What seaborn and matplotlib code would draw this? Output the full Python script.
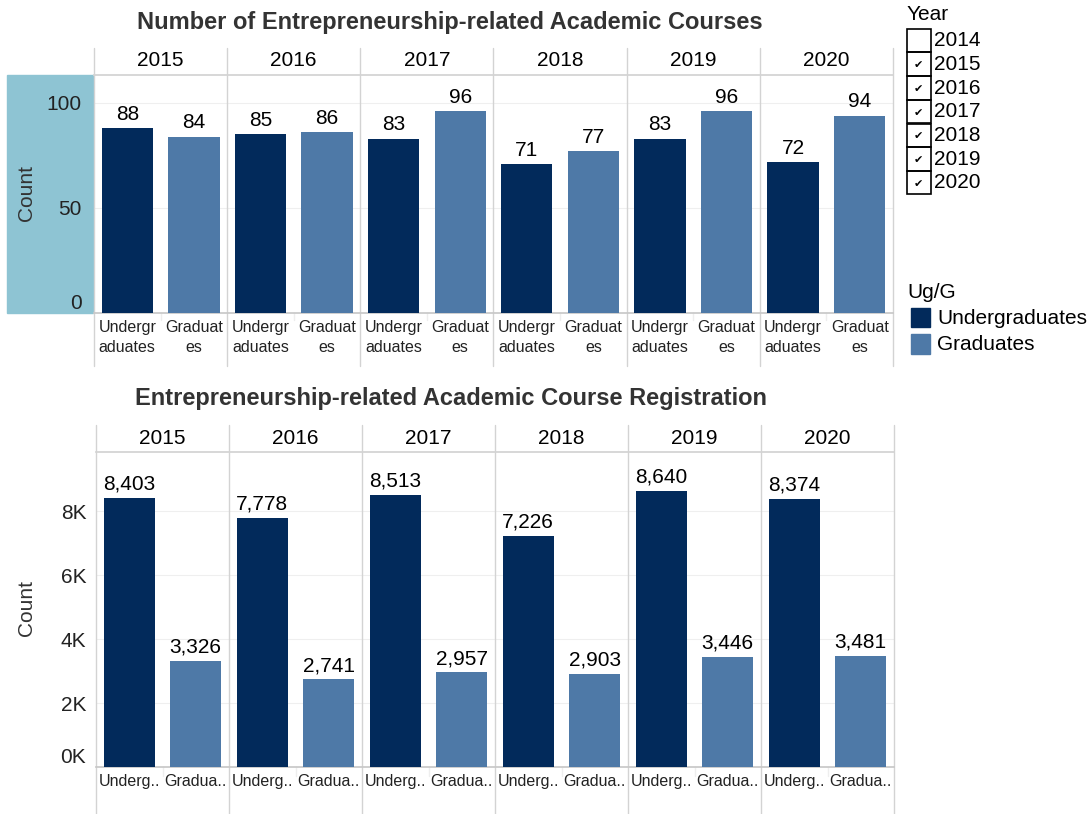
import numpy as np
import pandas as pd
import seaborn as sns
import matplotlib.pyplot as plt
from matplotlib.patches import Rectangle

years = ["2015", "2016", "2017", "2018", "2019", "2020"]
groups = ["Undergraduates", "Graduates"]
course_ug = [88, 85, 83, 71, 83, 72]
course_g = [84, 86, 96, 77, 96, 94]
reg_ug = [8403, 7778, 8513, 7226, 8640, 8374]
reg_g = [3326, 2741, 2957, 2903, 3446, 3481]
filter_years = ["2014", "2015", "2016", "2017", "2018", "2019", "2020"]
checked = [False, True, True, True, True, True, True]
top_ticklabels = ["Undergr\naduates", "Graduat\nes"]
bottom_ticklabels = ["Underg..", "Gradua.."]

colors = {"Undergraduates": "#022a5b", "Graduates": "#4e79a7"}
W, H = 1090, 814
LINE = "#d3d3d3"


def make_df(ug, g):
    rows = []
    for y, a, b in zip(years, ug, g):
        rows.append({"Year": y, "Ug/G": "Undergraduates", "slot": y + "|U", "Count": a})
        rows.append({"Year": y, "Ug/G": "Graduates", "slot": y + "|G", "Count": b})
    return pd.DataFrame(rows)


def fig_rect(x0, y0, x1, y1):
    # pixel box (top-left origin) -> figure fraction rect
    return [x0 / W, 1 - y1 / H, (x1 - x0) / W, (y1 - y0) / H]


def draw_panel(ax, df, ylim, yticks, ytl, xtl, head_y, vtop, vbot, fmt, ypad):
    order = list(df["slot"])
    sns.barplot(data=df, x="slot", y="Count", hue="Ug/G", order=order,
                hue_order=groups, palette=colors, dodge=False, width=0.77,
                legend=False, ax=ax, saturation=1, linewidth=0, zorder=3)
    ax.set_ylim(*ylim)
    ax.set_xlim(-0.5, len(order) - 0.5)
    ax.set_yticks(yticks)
    ax.set_yticklabels(ytl, fontsize=15, color="#222222")
    ax.set_xticks(range(len(order)))
    ax.set_xticklabels(xtl * len(years), fontsize=11.5, color="#222222", linespacing=1.4)
    ax.tick_params(axis="x", length=0, pad=5)
    ax.tick_params(axis="y", length=6, width=0.8, color="#bbbbbb", pad=ypad)
    ax.get_yticklabels()[0].set_va("bottom")
    ax.set_xlabel("")
    for s in ["left", "right"]:
        ax.spines[s].set_visible(False)
    ax.spines["top"].set_color(LINE)
    ax.spines["bottom"].set_color("#c8c8c8")
    ax.set_facecolor("white")
    ax.grid(axis="y", color="#efefef", lw=0.8, zorder=0)
    ax.grid(axis="x", visible=False)
    for i in range(len(years) + 1):
        ax.axvline(2 * i - 0.5, ymin=vbot, ymax=vtop, color=LINE, lw=1, clip_on=False, zorder=1)
    for i in range(len(years)):
        ax.axvline(2 * i + 0.5, ymin=-0.03, ymax=0, color="#eeeeee", lw=1, clip_on=False)
        ax.text(2 * i + 0.5, head_y, years[i], transform=ax.get_xaxis_transform(),
                ha="center", va="center", fontsize=15, color="black")
    for p in ax.patches:
        h = p.get_height()
        if np.isnan(h) or h == 0:
            continue
        ax.annotate(fmt.format(h), (p.get_x() + p.get_width() / 2, h),
                    xytext=(0, 3), textcoords="offset points", ha="center",
                    va="bottom", fontsize=15, color="black", zorder=4)


sns.set_theme(style="white")
plt.rcParams["font.family"] = ["Liberation Sans", "DejaVu Sans"]

fig = plt.figure(figsize=(W / 100, H / 100), dpi=100)

# top chart: course counts (highlighted axis area behind it)
fig.patches.append(Rectangle((7 / W, 1 - 313 / H), 86 / W, 238 / H,
                             transform=fig.transFigure, color="#8ec4d3", zorder=-1))
ax1 = fig.add_axes(fig_rect(94, 75, 893, 313))
ax1.patch.set_alpha(0)
df1 = make_df(course_ug, course_g)
draw_panel(ax1, df1, (0, 113.3), [0, 50, 100], ["0", "50", "100"], top_ticklabels,
           (313 - 61) / 238, (313 - 48) / 238, (313 - 366) / 238, "{:.0f}", 3)
ax1.set_ylabel("Count", fontsize=15, color="#333333")
ax1.yaxis.set_label_coords(-0.0726, 0.504)
fig.text(450 / W, 1 - 22 / H, "Number of Entrepreneurship-related Academic Courses",
         ha="center", va="center", fontsize=17, fontweight="bold", color="#333333")

# bottom chart: registrations
ax2 = fig.add_axes(fig_rect(96, 452, 894, 767))
df2 = make_df(reg_ug, reg_g)
draw_panel(ax2, df2, (0, 9844), [0, 2000, 4000, 6000, 8000],
           ["0K", "2K", "4K", "6K", "8K"], bottom_ticklabels,
           (767 - 438) / 315, (767 - 425) / 315, (767 - 814) / 315, "{:,.0f}", 1)
ax2.set_ylabel("Count", fontsize=15, color="#333333")
ax2.yaxis.set_label_coords(-0.075, 0.505)
fig.text(451 / W, 1 - 399 / H, "Entrepreneurship-related Academic Course Registration",
         ha="center", va="center", fontsize=17, fontweight="bold", color="#333333")

# year filter
fig.text(907 / W, 1 - 14 / H, "Year", ha="left", va="center", fontsize=15, color="black")
for i, (yr, c) in enumerate(zip(filter_years, checked)):
    top = 28.7 + i * 23.7
    fig.patches.append(Rectangle((907 / W, 1 - (top + 23.5) / H), 23.5 / W, 23.5 / H,
                                 transform=fig.transFigure, fill=False,
                                 edgecolor="black", lw=1.2))
    if c:
        fig.text(918.5 / W, 1 - (top + 13) / H, "\u2714", ha="center", va="center",
                 fontsize=8, color="black")
    fig.text(934 / W, 1 - (top + 12) / H, yr, ha="left", va="center", fontsize=15, color="black")

# colour legend
fig.text(907 / W, 1 - 293 / H, "Ug/G", ha="left", va="center", fontsize=15, color="black")
for i, g in enumerate(groups):
    top = 308 + i * 26.5
    fig.patches.append(Rectangle((911 / W, 1 - (top + 19) / H), 19 / W, 19 / H,
                                 transform=fig.transFigure, color=colors[g]))
    fig.text(937 / W, 1 - (top + 10) / H, g, ha="left", va="center", fontsize=15, color="black")

fig.savefig("out.png", dpi=100)
